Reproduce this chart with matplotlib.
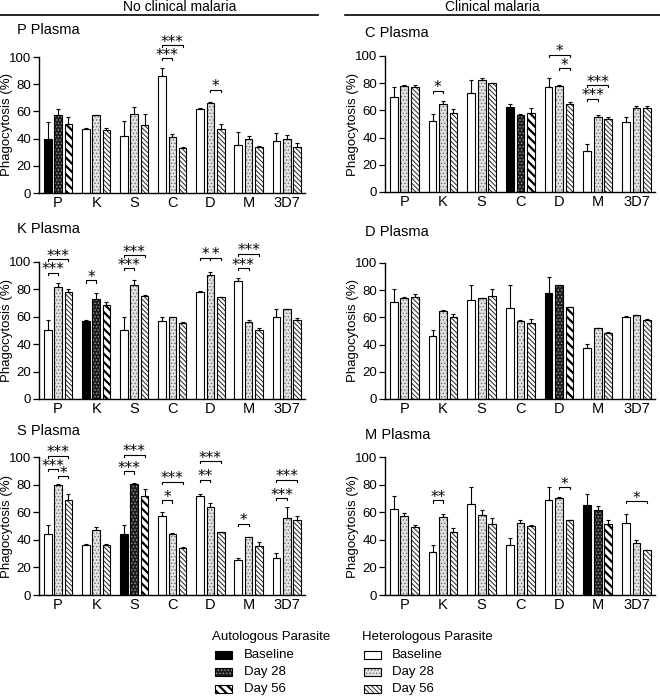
import numpy as np
import matplotlib.pyplot as plt
from matplotlib.patches import Rectangle
from matplotlib.lines import Line2D

plt.rcParams['font.family'] = ['Liberation Sans', 'DejaVu Sans']
plt.rcParams['hatch.linewidth'] = 0.6

parasites = ['P', 'K', 'S', 'C', 'D', 'M', '3D7']
timepoints = ['Baseline', 'Day 28', 'Day 56']

# rows: baseline, day 28, day 56 ; columns follow parasites
# P plasma (no clinical malaria)
P_mean = [[40, 47, 42, 86, 61.5, 35, 38],
          [57, 57, 58, 41, 66, 39.5, 40],
          [51, 46.5, 50, 33, 47, 34, 34]]
P_err = [[12, 1, 11, 6, 1, 10, 6],
         [5, 0, 5, 2.5, 1, 2.5, 2.5],
         [5, 1, 8, 0.5, 4, 0.5, 2.5]]
# (group, bar a, bar b, height, stars)
P_sig = [(3, 0, 1, 99, '***'), (3, 0, 2, 108.5, '***'), (4, 1, 2, 76, '*')]

# K plasma
K_mean = [[50, 57, 50.5, 57, 78, 86, 60],
          [82, 73, 83.5, 59.5, 90.5, 56.5, 65.5],
          [78, 68.5, 75, 55.5, 74.5, 50, 57.5]]
K_err = [[8, 0.5, 9.5, 2.5, 0.5, 2.5, 6],
         [3, 4.5, 3, 0.3, 2, 1.5, 0.5],
         [2.5, 2, 1, 0.5, 0, 1.5, 1.5]]
K_sig = [(0, 0, 1, 92, '***'), (0, 0, 2, 102, '***'), (1, 0, 1, 86.5, '*'),
         (2, 0, 1, 95.5, '***'), (2, 0, 2, 105, '***'),
         (4, 0, 1, 103, '*'), (4, 1, 2, 103, '*'),
         (5, 0, 1, 95.5, '***'), (5, 0, 2, 106, '***')]

# S plasma
S_mean = [[44.5, 36, 44.5, 57, 72, 25.5, 27],
          [80, 47, 80.5, 44.5, 63.5, 42, 56],
          [68.5, 36.5, 72, 34, 45.5, 35.5, 54.5]]
S_err = [[6, 1, 6.5, 3, 1.5, 1.5, 3.5],
         [0.3, 2.5, 0.5, 0.3, 3, 0.3, 7.5],
         [4.5, 0.5, 5, 1, 0.5, 3, 2.5]]
S_sig = [(0, 0, 2, 101, '***'), (0, 0, 1, 91, '***'), (0, 1, 2, 86, '*'),
         (2, 0, 2, 101.5, '***'), (2, 0, 1, 89.5, '***'),
         (3, 0, 2, 82, '***'), (3, 0, 1, 68.5, '*'),
         (4, 0, 2, 97, '***'), (4, 0, 1, 83.5, '**'),
         (5, 0, 1, 51.5, '*'),
         (6, 0, 2, 83.5, '***'), (6, 0, 1, 70, '***')]

# C plasma (clinical malaria)
C_mean = [[70, 52, 72.5, 62.5, 77, 30, 51.5],
          [78, 64.5, 82.5, 56.5, 78, 55.5, 62],
          [77, 58, 80, 58, 65, 54, 62]]
C_err = [[7, 5, 9.5, 2, 6.5, 5.5, 3.5],
         [0.5, 2.5, 1.5, 1, 0.5, 1, 1],
         [1.5, 3, 0, 3.5, 1, 1.5, 1.5]]
C_sig = [(1, 0, 1, 74.5, '*'), (4, 0, 2, 101, '*'), (4, 1, 2, 91, '*'),
         (5, 0, 2, 78.5, '***'), (5, 0, 1, 68.5, '***')]

# D plasma
D_mean = [[71.5, 46, 73, 67, 78, 37.5, 60.5],
          [74, 65, 74.5, 57.5, 83.5, 52, 61.5],
          [75, 60, 75.5, 56, 68, 48.5, 58]]
D_err = [[9.5, 5, 10.5, 17, 11.5, 3, 0.5],
         [1, 0.3, 0, 0.5, 0.3, 0.3, 0.5],
         [2.5, 2.5, 5.5, 3, 0, 0.5, 1]]
D_sig = []

# M plasma
M_mean = [[62, 31, 66, 36, 69, 65.5, 52],
          [57.5, 56.5, 58, 52, 70.5, 61.5, 38],
          [49.5, 45.5, 51.5, 50, 54, 51.5, 32.5]]
M_err = [[10, 5, 12.5, 5, 9.5, 7.5, 7],
         [2, 2.5, 3.5, 2, 0.5, 3, 2],
         [1.5, 3, 4, 1, 0.5, 2.5, 0.3]]
M_sig = [(1, 0, 1, 68.5, '**'), (4, 1, 2, 78, '*'), (6, 0, 2, 68, '*')]

W, H = 660, 700
# face, hatch, hatch colour, hatch linewidth
het_style = [('white', None, 'black', 0.6),
             ('#e2e2e2', '.....', '#6f6f6f', 0.6),
             ('white', '\\\\\\\\\\\\\\', '#262626', 0.7)]
auto_style = [('black', None, 'black', 0.6),
              ('#1e1e1e', '.....', '#9a9a9a', 0.6),
              ('white', '\\\\\\\\', 'black', 1.6)]

width = 0.2
offsets = [-0.27, 0, 0.27]


def fig_rect(x0, y0, x1, y1):
    return [x0 / W, 1 - y1 / H, (x1 - x0) / W, (y1 - y0) / H]


def hatched_bar(ax, x, h, style):
    face, hatch, hc, hlw = style
    bars = ax.bar(x, h, width, color=face, hatch=hatch, edgecolor=hc, linewidth=0)
    for b in bars:
        if hasattr(b, 'set_hatch_linewidth'):
            b.set_hatch_linewidth(hlw)
    ax.bar(x, h, width, fill=False, edgecolor='black', linewidth=0.8)


def bracket(ax, g, a, b, y, stars):
    x1 = g + offsets[a]
    x2 = g + offsets[b]
    ax.plot([x1, x1, x2, x2], [y - 1.5, y, y, y - 1.5], color='black', lw=0.8,
            clip_on=False)
    ax.text((x1 + x2) / 2, y - 1, stars, ha='center', va='baseline',
            fontsize=11, family='DejaVu Sans', clip_on=False)


def draw_panel(rect, mean, err, sig, auto):
    ax = fig.add_axes(rect)
    x = np.arange(len(parasites))
    for k in range(3):
        for i in range(len(parasites)):
            style = auto_style[k] if i == auto else het_style[k]
            hatched_bar(ax, x[i] + offsets[k], mean[k][i], style)
        ax.errorbar(x + offsets[k], mean[k],
                    yerr=[np.zeros(len(parasites)), err[k]],
                    fmt='none', ecolor='black', elinewidth=0.8,
                    capsize=1.5, capthick=0.8)
    for s in sig:
        bracket(ax, *s)
    ax.set_xlim(-0.5, 6.48)
    ax.set_ylim(0, 100)
    ax.set_yticks([0, 20, 40, 60, 80, 100])
    ax.set_xticks(x)
    ax.set_xticklabels(parasites, fontsize=10.5)
    ax.tick_params(axis='x', length=0, pad=2)
    ax.tick_params(axis='y', labelsize=9.5, length=4, width=0.9, pad=1.5)
    for side in ['top', 'right']:
        ax.spines[side].set_visible(False)
    for side in ['left', 'bottom']:
        ax.spines[side].set_linewidth(1.0)
    ax.set_ylabel('Phagocytosis (%)', fontsize=9.5)
    ax.yaxis.set_label_coords(-32 / (rect[2] * W), 0.5)
    ax.yaxis.label.set_verticalalignment('center')
    return ax


fig = plt.figure(figsize=(6.6, 7), dpi=100)

panels = [
    ('P Plasma', P_mean, P_err, P_sig, 0, (39, 57, 305, 193), (17, 30)),
    ('K Plasma', K_mean, K_err, K_sig, 1, (39, 262, 305, 399), (17, 229)),
    ('S Plasma', S_mean, S_err, S_sig, 2, (39, 457, 305, 595), (17, 431)),
    ('C Plasma', C_mean, C_err, C_sig, 3, (385, 56, 655, 192), (365, 33)),
    ('D Plasma', D_mean, D_err, D_sig, 4, (385, 263, 655, 399), (365, 232)),
    ('M Plasma', M_mean, M_err, M_sig, 5, (385, 457, 655, 595), (365, 435)),
]

for title, mean, err, sig, auto, box, tpos in panels:
    draw_panel(fig_rect(*box), mean, err, sig, auto)
    fig.text(tpos[0] / W, 1 - tpos[1] / H, title, fontsize=10.5, va='center')

# column headers
fig.text(180 / W, 1 - 7 / H, 'No clinical malaria', fontsize=10, ha='center', va='center')
fig.text(492 / W, 1 - 7 / H, 'Clinical malaria', fontsize=10, ha='center', va='center')
fig.add_artist(Line2D([0, 318 / W], [1 - 15 / H] * 2, color='black', lw=1.2))
fig.add_artist(Line2D([345 / W, 1], [1 - 15 / H] * 2, color='black', lw=1.2))

# legend
legend_cols = [('Autologous Parasite', auto_style, 212, 215, 244),
               ('Heterologous Parasite', het_style, 362, 364, 392)]
for head, styles, tx, px, lx in legend_cols:
    fig.text(tx / W, 1 - 637 / H, head, fontsize=9.5, va='center')
    for k, yc in enumerate([655, 672, 689]):
        face, hatch, hc, hlw = styles[k]
        r = Rectangle((px / W, 1 - (yc + 4) / H), 17 / W, 8 / H,
                      transform=fig.transFigure, facecolor=face, hatch=hatch,
                      edgecolor=hc, linewidth=0)
        if hasattr(r, 'set_hatch_linewidth'):
            r.set_hatch_linewidth(hlw)
        fig.add_artist(r)
        fig.add_artist(Rectangle((px / W, 1 - (yc + 4) / H), 17 / W, 8 / H,
                                 transform=fig.transFigure, fill=False,
                                 edgecolor='black', linewidth=0.8))
        fig.text(lx / W, 1 - yc / H, timepoints[k], fontsize=9.5, va='center')

fig.savefig('out.png', dpi=100)
